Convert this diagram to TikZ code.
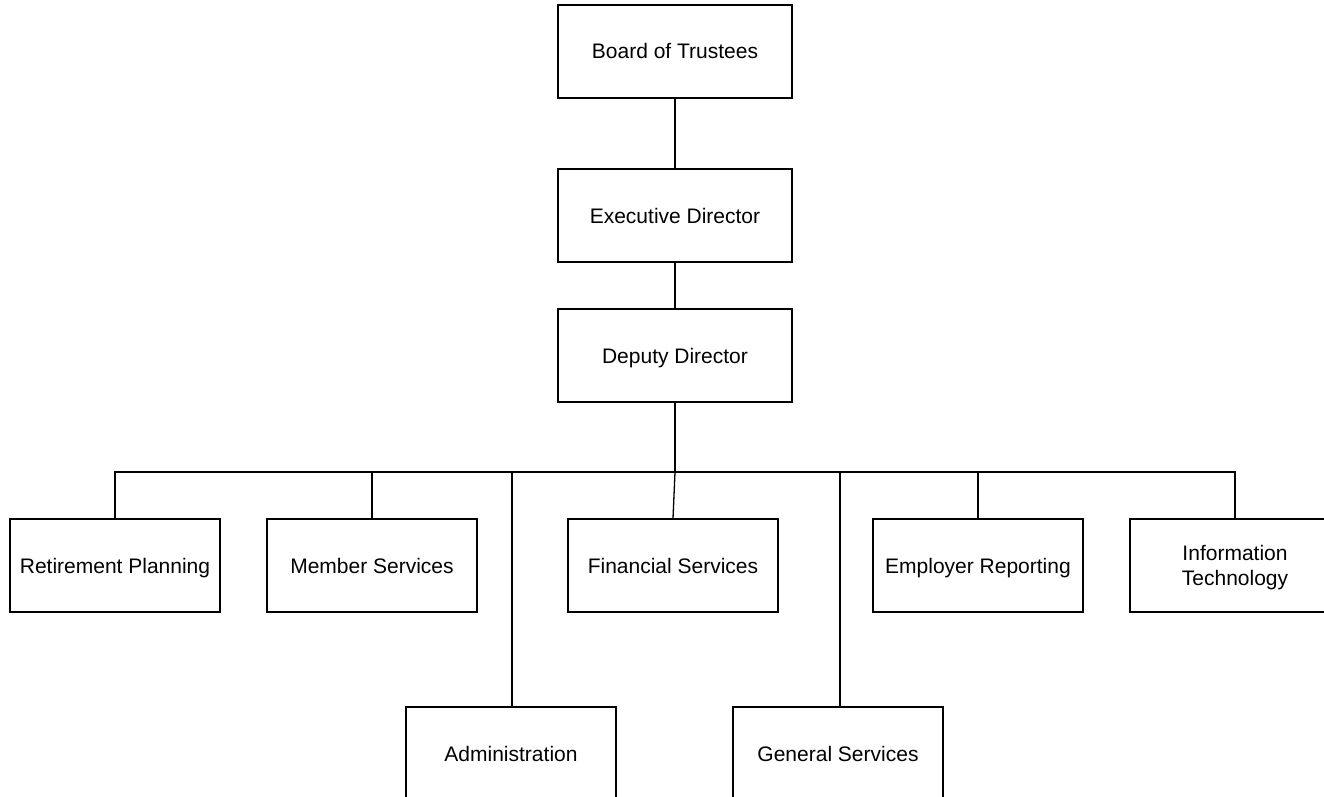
\documentclass[tikz,border=0pt]{standalone}
\usepackage{fontspec}
\setmainfont{Liberation Sans}
\begin{document}
\begin{tikzpicture}[x=1pt,y=-1pt,
  orgbox/.style={draw,line width=1.3pt,minimum width=210pt,minimum height=93pt,inner sep=0pt,align=center,
    text height=15pt,text depth=0pt,font=\fontsize{21}{25.7}\selectfont},
  topbox/.style={orgbox,minimum width=234pt},
  twoline/.style={text height=40.7pt},
  link/.style={line width=1.3pt}]
\useasboundingbox (0,0) rectangle (1324,797);
\clip (0,0) rectangle (1324,797);
\node[topbox] (bot) at (675,51.5) {Board of Trustees};
\node[topbox] (exe) at (675,215.5) {Executive Director};
\node[topbox] (dep) at (675,355.5) {Deputy Director};
\node[orgbox] (ret) at (115,565.5) {Retirement Planning};
\node[orgbox] (mem) at (372,565.5) {Member Services};
\node[orgbox] (fin) at (673,565.5) {Financial Services};
\node[orgbox] (emp) at (978,565.5) {Employer Reporting};
\node[orgbox,twoline] (inf) at (1235,565.5) {Information\\Technology};
\node[orgbox] (adm) at (511,753.5) {Administration};
\node[orgbox] (gen) at (838,753.5) {General Services};
\coordinate (bus) at (675,472);
\draw[link] (bot) -- (exe);
\draw[link] (exe) -- (dep);
\draw[link] (dep.south) -- (bus);
\draw[link] (ret.north) |- (bus);
\draw[link] (mem.north) |- (bus);
\draw[link] (fin.north) -- (bus);
\draw[link] (emp.north) |- (bus);
\draw[link] (inf.north) |- (bus);
\draw[link] ([xshift=1pt]adm.north) |- (bus);
\draw[link] ([xshift=2pt]gen.north) |- (bus);
\end{tikzpicture}
\end{document}
